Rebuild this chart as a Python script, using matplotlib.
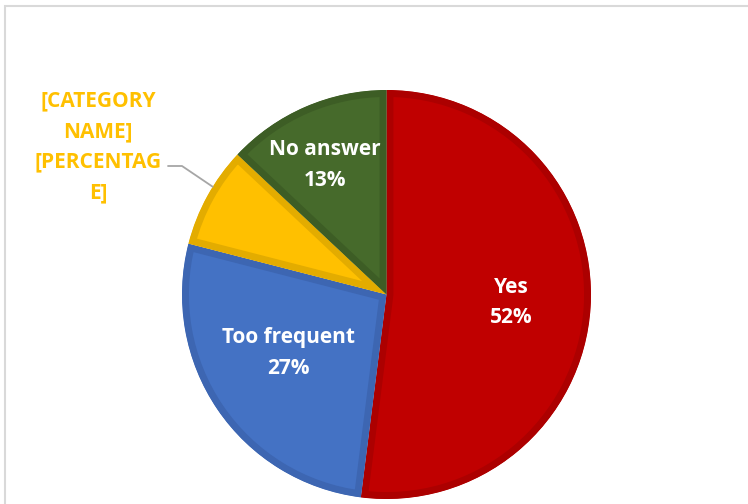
import numpy as np
import matplotlib
matplotlib.use("Agg")
import matplotlib.pyplot as plt
from matplotlib.patches import Rectangle

# data
categories = ["Yes", "Too frequent", "[CATEGORY NAME]", "No answer"]
shares = [52, 27, 8, 13]
label_texts = ["Yes\n52%", "Too frequent\n27%", None, "No answer\n13%"]
outside_text = "[CATEGORY\nNAME]\n[PERCENTAG\nE]"

# style
FILLS = ["#C00000", "#4472C4", "#FFC000", "#466A2B"]
EDGES = ["#AC0000", "#3D66B2", "#E3AC00", "#3D5D25"]
LABEL_DIST = [0.61, 0.56, None, 0.70]
LABEL_TURN = [0.0, -3.5, None, 2.0]  # degrees, Excel nudges
FONT = "Open Sans"
FS = 15

W, H = 748, 504
fig = plt.figure(figsize=(W / 100, H / 100), dpi=100)
fig.patch.set_facecolor("white")

# chart frame (only top and left visible in the crop)
fig.patches.append(Rectangle((4.5 / W, -0.1), 1.2, (H - 6) / H + 0.1,
                             transform=fig.transFigure, fill=False,
                             edgecolor="#D9D9D9", lw=1.5, clip_on=False))

cx, cy, r = 386.5, H - 294.5, 204.5
ax = fig.add_axes([(cx - r) / W, (cy - r) / H, 2 * r / W, 2 * r / H])
wedges, _ = ax.pie(shares, startangle=90, counterclock=False, colors=FILLS,
                   radius=1.0,
                   wedgeprops=dict(linewidth=10, joinstyle="miter"))
for w, ec in zip(wedges, EDGES):
    w.set_edgecolor(ec)
    # keep only the inner half of the stroke
    w.set_clip_path(w.get_path(), w.get_transform())
    w.set_clip_on(True)
ax.set_xlim(-1, 1)
ax.set_ylim(-1, 1)
ax.set_aspect("equal")
ax.axis("off")

for w, txt, d, t in zip(wedges, label_texts, LABEL_DIST, LABEL_TURN):
    if txt is None:
        continue
    mid = np.deg2rad((w.theta1 + w.theta2) / 2 + t)
    ax.text(d * np.cos(mid), d * np.sin(mid), txt, ha="center", va="center",
            color="white", fontsize=FS, fontweight="bold", family=FONT,
            linespacing=1.6)

# outside label with leader line
fig.text(98 / W, 1 - 147 / H, outside_text, ha="center", va="center",
         color="#FFC000", fontsize=FS, fontweight="bold", family=FONT,
         linespacing=1.6)

yw = wedges[2]
mid = np.deg2rad((yw.theta1 + yw.theta2) / 2) + np.deg2rad(-3)
tip = (np.cos(mid), np.sin(mid))
fig.canvas.draw()
tip_px = ax.transData.transform(tip)
corner_px = np.array([182.0, H - 166.0])
angB = np.degrees(np.arctan2(corner_px[1] - tip_px[1], corner_px[0] - tip_px[0]))
ax.annotate("", xy=tip, xycoords="data",
            xytext=(168 / W, 1 - 166 / H), textcoords="figure fraction",
            arrowprops=dict(arrowstyle="-", color="#A6A6A6", lw=1.3,
                            shrinkA=0, shrinkB=0,
                            connectionstyle=f"angle,angleA=0,angleB={angB:.2f},rad=0"))

fig.savefig("out.png", dpi=100)
